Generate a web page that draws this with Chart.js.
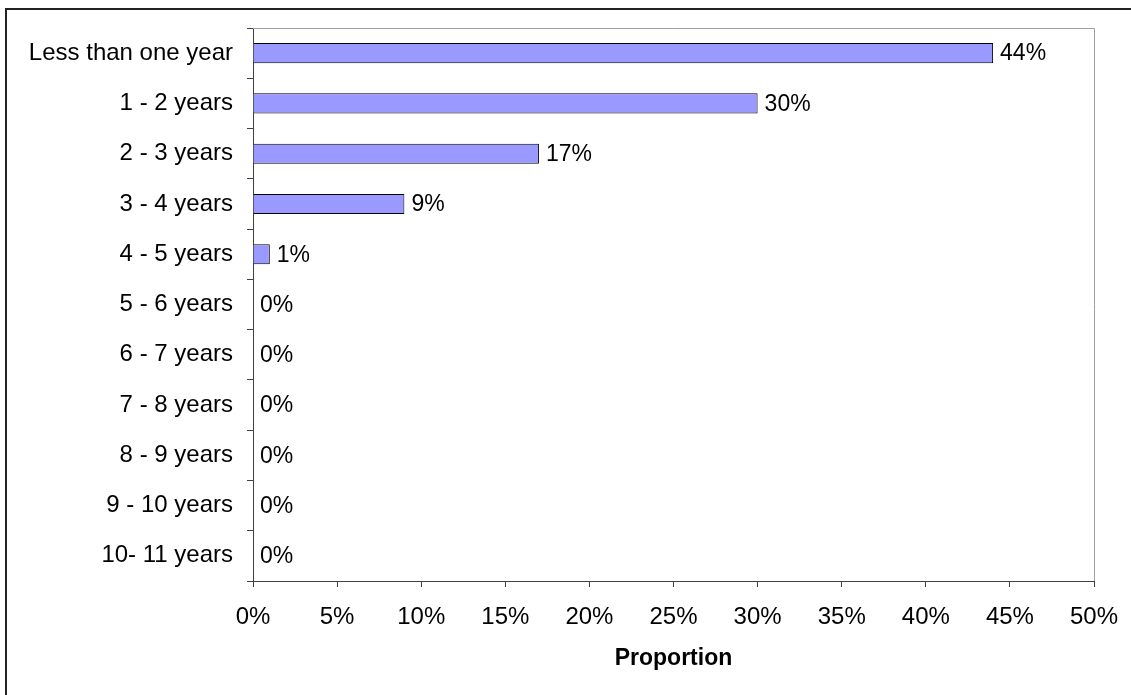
<!DOCTYPE html>
<html>
<head>
<meta charset="utf-8">
<script src="https://cdn.jsdelivr.net/npm/chart.js@4.4.0/dist/chart.umd.min.js"></script>
<style>
  html, body { margin: 0; padding: 0; background: #fff; }
  canvas { display: block; }
</style>
</head>
<body>
<canvas id="chart" width="1131" height="695"></canvas>
<script>
const categories = ['Less than one year', '1 - 2 years', '2 - 3 years', '3 - 4 years', '4 - 5 years',
    '5 - 6 years', '6 - 7 years', '7 - 8 years', '8 - 9 years', '9 - 10 years', '10- 11 years'];
const proportion = [44, 30, 17, 9, 1, 0, 0, 0, 0, 0, 0];
const xTicks = [0, 5, 10, 15, 20, 25, 30, 35, 40, 45, 50];

const FONT = '"Liberation Sans", Arial, sans-serif';

// outer frame (only top/left visible) + grey top/right edge of the plot area
const framePlugin = {
    id: 'frame',
    afterDraw(chart) {
        const ctx = chart.ctx;
        const a = chart.chartArea;
        ctx.save();
        ctx.strokeStyle = '#a0a0a0';
        ctx.lineWidth = 1;
        ctx.beginPath();
        ctx.moveTo(a.left, a.top + 0.5);
        ctx.lineTo(a.right + 0.5, a.top + 0.5);
        ctx.lineTo(a.right + 0.5, a.bottom);
        ctx.stroke();
        ctx.strokeStyle = '#222';
        ctx.lineWidth = 2;
        ctx.beginPath();
        ctx.moveTo(6, 700);
        ctx.lineTo(6, 9);
        ctx.lineTo(1140, 9);
        ctx.stroke();
        ctx.restore();
    }
};

// value labels to the right of each bar
const labelPlugin = {
    id: 'barLabels',
    afterDatasetsDraw(chart) {
        const ctx = chart.ctx;
        const meta = chart.getDatasetMeta(0);
        ctx.save();
        ctx.font = '23px ' + FONT;
        ctx.fillStyle = '#000';
        ctx.textAlign = 'left';
        ctx.textBaseline = 'middle';
        meta.data.forEach((bar, i) => {
            ctx.fillText(proportion[i] + '%', bar.x + 7, bar.y + 1);
        });
        ctx.restore();
    }
};

new Chart(document.getElementById('chart').getContext('2d'), {
    type: 'bar',
    data: {
        labels: categories,
        datasets: [{
            data: proportion,
            backgroundColor: '#9999ff',
            borderColor: '#000',
            borderWidth: 1,
            barPercentage: 0.4,
            categoryPercentage: 1
        }]
    },
    options: {
        indexAxis: 'y',
        responsive: false,
        animation: false,
        layout: { padding: { left: 0, top: 28, right: 37, bottom: 23 } },
        plugins: { legend: { display: false }, tooltip: { enabled: false } },
        scales: {
            x: {
                min: 0,
                max: 50,
                afterBuildTicks: s => { s.ticks = xTicks.map(v => ({ value: v })); },
                afterFit: s => { s.height = 91; s.paddingLeft = 0; s.paddingRight = 0; },
                grid: { drawOnChartArea: false, drawTicks: true, tickLength: 6, color: '#404040' },
                border: { color: '#404040', width: 1 },
                ticks: { color: '#000', font: { family: FONT, size: 24 }, padding: 16, callback: v => v + '%' },
                title: { display: true, text: 'Proportion', color: '#000', padding: { top: 0, bottom: 0 },
                         font: { family: FONT, size: 23, weight: 'bold' } }
            },
            y: {
                afterFit: s => { s.width = 253; s.paddingTop = 0; s.paddingBottom = 0; },
                grid: { offset: true, drawOnChartArea: false, drawTicks: true, tickLength: 6, color: '#404040' },
                border: { color: '#404040', width: 1 },
                ticks: { color: '#000', font: { family: FONT, size: 24 }, padding: 14 }
            }
        }
    },
    plugins: [framePlugin, labelPlugin]
});
</script>
</body>
</html>
